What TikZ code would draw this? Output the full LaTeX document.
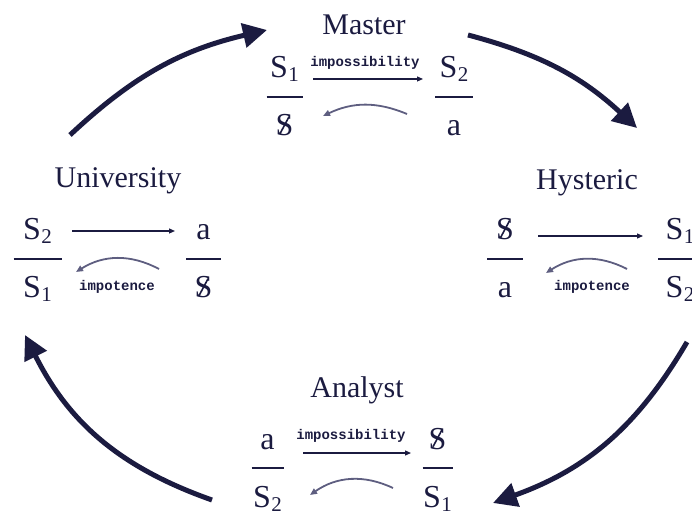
\documentclass[tikz,border=0pt]{standalone}
\usepackage{fontspec}
\setmainfont{Liberation Serif}
\newfontfamily\tagfont{Liberation Mono}
\usepackage{tikz}
\usetikzlibrary{arrows.meta}
\definecolor{lacanink}{HTML}{1B1B40}
\definecolor{lacanback}{HTML}{5E5E80}
\newcommand{\Sx}[1]{S\kern0.5pt\raisebox{-4pt}{\fontsize{21}{21}\selectfont #1}}
\newcommand{\barS}{\ooalign{S\cr\hidewidth\raisebox{2pt}{\rotatebox{62}{\rule{19pt}{1.6pt}}}\hidewidth\cr}}
% name, x, y of bar, half width, top, bottom
\newcommand{\lacanfrac}[6]{%
  \draw[fracbar] (#2-#4,#3) -- (#2+#4,#3);
  \node[sym, anchor=base] (#1top) at (#2,#3+19) {#5};
  \node[sym, anchor=base] (#1bot) at (#2,#3-39) {#6};
}

\begin{document}
\begin{tikzpicture}[x=1pt, y=1pt,
  title/.style={font=\fontsize{30}{30}\selectfont, text=lacanink, inner sep=0pt},
  sym/.style={font=\fontsize{32}{32}\selectfont, text=lacanink, inner sep=0pt},
  tag/.style={font=\tagfont\bfseries\fontsize{14}{14}\selectfont, text=lacanink, inner sep=0pt},
  fracbar/.style={lacanink, line width=1.2pt},
  flow/.style={lacanink, line width=1.2pt, -{Triangle[length=6pt,width=5pt]}},
  back/.style={lacanback, line width=1.8pt, -{Triangle[length=7pt,width=6pt]}},
  turn/.style={lacanink, line width=5pt, -{Triangle[length=24pt,width=24pt]}}]
  \useasboundingbox (0,0) rectangle (692,514);
  % titles
  \node[title, anchor=base] (master) at (364,479) {Master};
  \node[title, anchor=base] (university) at (118,326) {University};
  \node[title, anchor=base] (hysteric) at (587,324) {Hysteric};
  \node[title, anchor=base] (analyst) at (357,117) {Analyst};
  % fractions: name, x, bar, half width, top, bottom
  \lacanfrac{ml}{284.5}{417}{18}{\Sx1}{\barS}
  \lacanfrac{mr}{454}{417}{19}{\Sx2}{a}
  \lacanfrac{ul}{37.5}{255}{24}{\Sx2}{\Sx1}
  \lacanfrac{ur}{203.5}{255}{17.5}{a}{\barS}
  \lacanfrac{hl}{505}{255}{18}{\barS}{a}
  \lacanfrac{hr}{680}{255}{22}{\Sx1}{\Sx2}
  \lacanfrac{al}{267.5}{46}{16}{a}{\Sx2}
  \lacanfrac{ar}{437.5}{46}{15}{\barS}{\Sx1}
  % labels
  \node[tag] (mtag) at (365,451) {impossibility};
  \node[tag] (utag) at (117,227) {impotence};
  \node[tag] (htag) at (592,227) {impotence};
  \node[tag] (atag) at (351,78) {impossibility};
  % straight arrows
  \draw[flow] ([shift={(28.5pt,-1pt)}]mltop.base) -- ([shift={(-31pt,-1pt)}]mrtop.base);
  \draw[flow] ([shift={(34.5pt,9pt)}]ultop.base) -- ([shift={(-28.5pt,9pt)}]urtop.base);
  \draw[flow] ([shift={(33pt,4pt)}]hltop.base) -- ([shift={(-37pt,4pt)}]hrtop.base);
  \draw[flow] ([shift={(35.5pt,-4pt)}]altop.base) -- ([shift={(-26.5pt,-4pt)}]artop.base);
  % curved arrows back
  \draw[back] ([shift={(-47pt,22pt)}]mrbot.base) to[bend right=24] ([shift={(38.5pt,20pt)}]mlbot.base);
  \draw[back] ([shift={(-44.5pt,29pt)}]urbot.base) to[bend right=30] ([shift={(38.5pt,26pt)}]ulbot.base);
  \draw[back] ([shift={(-53pt,29pt)}]hrbot.base) to[bend right=30] ([shift={(41pt,25pt)}]hlbot.base);
  \draw[back] ([shift={(-44.5pt,19pt)}]arbot.base) to[bend right=30] ([shift={(42.5pt,12pt)}]albot.base);
  % turns between discourses
  \coordinate (u2m) at (70,379);   \coordinate (m2u) at (267,484);
  \coordinate (m2h) at (468,479);  \coordinate (h2m) at (637,386);
  \coordinate (h2a) at (687,172);  \coordinate (a2h) at (493,11);
  \coordinate (a2u) at (212,14);   \coordinate (u2a) at (25,179);
  \draw[turn] (u2m) to[bend left=15] (m2u);
  \draw[turn] (m2h) to[bend left=14] (h2m);
  \draw[turn] (h2a) to[bend left=20] (a2h);
  \draw[turn] (a2u) to[bend left=22] (u2a);
\end{tikzpicture}
\end{document}
